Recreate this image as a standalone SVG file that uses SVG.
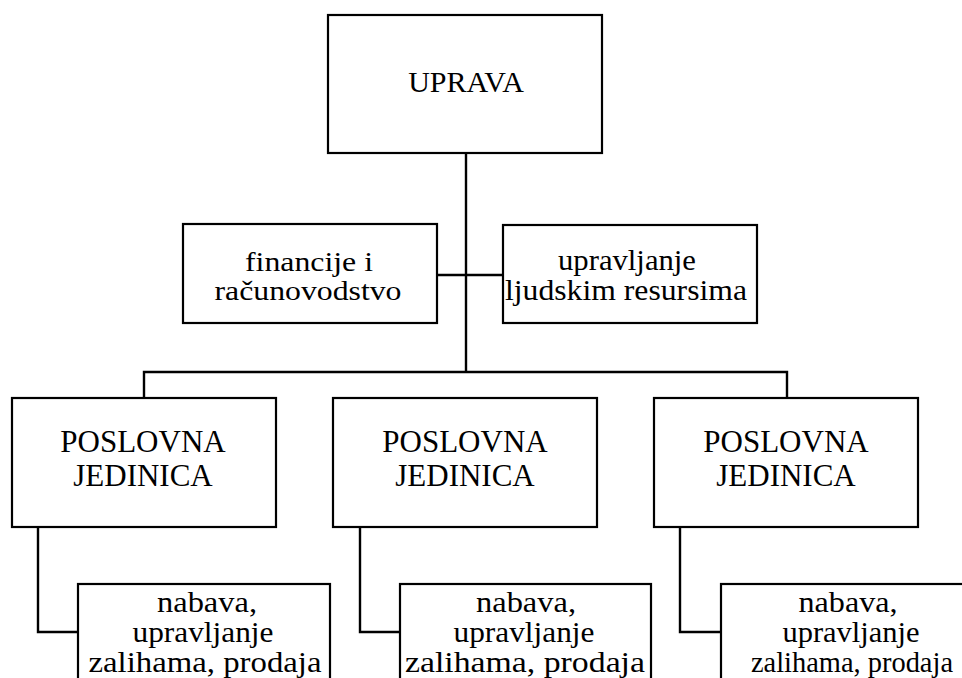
<svg xmlns="http://www.w3.org/2000/svg" width="962" height="678" viewBox="0 0 962 678">
<style>
.box{fill:#fff;stroke:#000;stroke-width:2.2}
.ln{fill:none;stroke:#000;stroke-width:2.4}
text{font-family:"Liberation Serif","Times New Roman",serif;fill:#000;text-anchor:middle}
.up{font-size:30px}
.cap{font-size:31px}
.lo{font-size:30px}
.md{font-size:28px}
</style>
<rect width="962" height="678" fill="#fff"/>
<g id="connectors">
<path class="ln" d="M466 153 V372"/>
<path class="ln" d="M437 275 H503"/>
<path class="ln" d="M144 398 V372 H787 V398"/>
<path class="ln" d="M38 527 V632 H78"/>
<path class="ln" d="M360 527 V632 H400"/>
<path class="ln" d="M680 527 V632 H721"/>
</g>
<g id="uprava">
<rect class="box" x="328" y="15" width="274" height="138"/>
<text class="up" x="466" y="92">UPRAVA</text>
</g>
<g id="financije">
<rect class="box" x="183" y="224" width="254" height="99"/>
<text class="md" x="309" y="271" textLength="128" lengthAdjust="spacingAndGlyphs">financije i</text>
<text class="md" x="308" y="300" textLength="187" lengthAdjust="spacingAndGlyphs">računovodstvo</text>
</g>
<g id="ljudski">
<rect class="box" x="503" y="225" width="254" height="98"/>
<text class="lo" x="627" y="270" textLength="138" lengthAdjust="spacingAndGlyphs">upravljanje</text>
<text class="lo" x="626" y="300" textLength="242" lengthAdjust="spacingAndGlyphs">ljudskim resursima</text>
</g>
<g id="pj1">
<rect class="box" x="12" y="398" width="264" height="129"/>
<text class="cap" x="143" y="452">POSLOVNA</text>
<text class="cap" x="143" y="486">JEDINICA</text>
</g>
<g id="pj2">
<rect class="box" x="333" y="398" width="264" height="129"/>
<text class="cap" x="465" y="452">POSLOVNA</text>
<text class="cap" x="465" y="486">JEDINICA</text>
</g>
<g id="pj3">
<rect class="box" x="654" y="398" width="264" height="129"/>
<text class="cap" x="786" y="452">POSLOVNA</text>
<text class="cap" x="786" y="486">JEDINICA</text>
</g>
<g id="sub1">
<rect class="box" x="78" y="584" width="252" height="110"/>
<text class="lo" x="207" y="612" textLength="100" lengthAdjust="spacingAndGlyphs">nabava,</text>
<text class="lo" x="203" y="642" textLength="141" lengthAdjust="spacingAndGlyphs">upravljanje</text>
<text class="lo" x="205" y="672" textLength="233" lengthAdjust="spacingAndGlyphs">zalihama, prodaja</text>
</g>
<g id="sub2">
<rect class="box" x="400" y="584" width="251" height="110"/>
<text class="lo" x="526" y="612" textLength="100" lengthAdjust="spacingAndGlyphs">nabava,</text>
<text class="lo" x="524" y="642" textLength="141" lengthAdjust="spacingAndGlyphs">upravljanje</text>
<text class="lo" x="525" y="672" textLength="240" lengthAdjust="spacingAndGlyphs">zalihama, prodaja</text>
</g>
<g id="sub3">
<rect class="box" x="721" y="584" width="260" height="110"/>
<text class="lo" x="848" y="612" textLength="99" lengthAdjust="spacingAndGlyphs">nabava,</text>
<text class="lo" x="851" y="642" textLength="137" lengthAdjust="spacingAndGlyphs">upravljanje</text>
<text class="lo" x="852" y="672" textLength="202" lengthAdjust="spacingAndGlyphs">zalihama, prodaja</text>
</g>
</svg>
